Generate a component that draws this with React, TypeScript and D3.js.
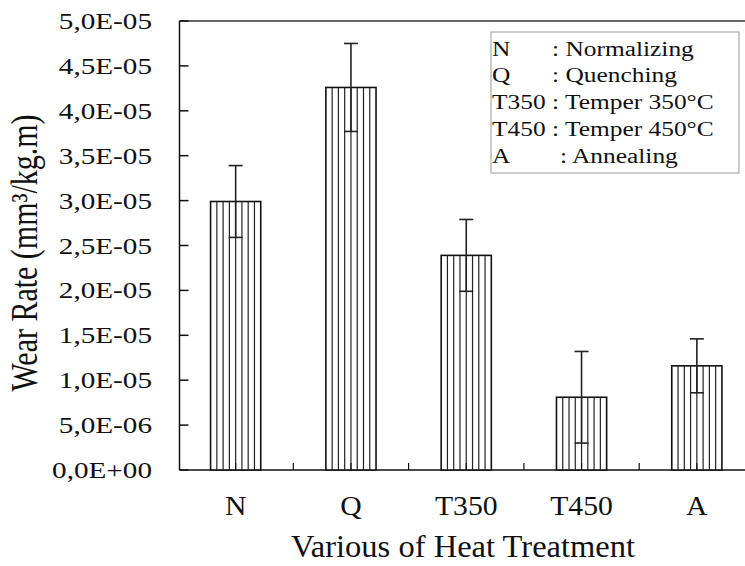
import { useMemo } from 'react';
import * as d3 from 'd3';

const categories = ['N', 'Q', 'T350', 'T450', 'A'];
const wearRate = [2.99e-5, 4.26e-5, 2.39e-5, 0.81e-5, 1.16e-5];
const wearError = [0.4e-5, 0.49e-5, 0.4e-5, 0.51e-5, 0.3e-5];

const yTicks = [0, 0.5e-5, 1e-5, 1.5e-5, 2e-5, 2.5e-5, 3e-5, 3.5e-5, 4e-5, 4.5e-5, 5e-5];
const yTickLabels = [
  '0,0E+00', '5,0E-06', '1,0E-05', '1,5E-05', '2,0E-05', '2,5E-05',
  '3,0E-05', '3,5E-05', '4,0E-05', '4,5E-05', '5,0E-05',
];

const legendKeys = ['N', 'Q', 'T350', 'T450', 'A'];
const legendText = ['Normalizing', 'Quenching', 'Temper 350°C', 'Temper 450°C', 'Annealing'];

const FONT = "'Liberation Serif', 'Times New Roman', Times, serif";
const textStyle = { fontFamily: FONT };

export default function App() {
  const width = 745;
  const height = 566;
  const margin = { top: 21, left: 179.5, bottom: 470 };

  const x = useMemo(
    () => d3.scaleBand<string>().domain(categories).range([178, 754.5]).padding(0),
    []
  );
  const y = useMemo(
    () => d3.scaleLinear().domain([0, 5e-5]).range([margin.bottom, margin.top]),
    []
  );

  const barW = x.bandwidth() * 0.435;
  const hatchCount = 8;
  const capW = 14;

  const boundaries = categories.map((c) => x(c) ?? 0).slice(1);

  return (
    <svg
      width={width}
      height={height}
      style={{ position: 'absolute', left: 0, top: 0, background: '#fff', fontFamily: FONT }}
    >
      <rect x={0} y={0} width={width} height={height} fill="#fff" />

      {/* frame */}
      <line x1={margin.left} x2={width + 20} y1={margin.top} y2={margin.top} stroke="#333" strokeWidth={1.5} />
      <line x1={margin.left} x2={margin.left} y1={margin.top} y2={margin.bottom} stroke="#111" strokeWidth={1.5} />
      <line x1={margin.left} x2={width + 20} y1={margin.bottom} y2={margin.bottom} stroke="#111" strokeWidth={1.5} />

      {/* y ticks */}
      {yTicks.map((t, i) => (
        <g key={t}>
          <line x1={margin.left} x2={margin.left + 9} y1={y(t)} y2={y(t)} stroke="#111" strokeWidth={1.5} />
          <text
            transform={`translate(152,${y(t)}) scale(1.27,1)`}
            textAnchor="end"
            dy="0.35em"
            fontSize={23}
            fill="#111"
            style={textStyle}
          >
            {yTickLabels[i]}
          </text>
        </g>
      ))}

      {/* x ticks */}
      {boundaries.map((bx) => (
        <line key={bx} x1={bx} x2={bx} y1={margin.bottom} y2={margin.bottom - 7} stroke="#111" strokeWidth={1.2} />
      ))}

      {/* bars */}
      {categories.map((c, i) => {
        const cx = (x(c) ?? 0) + x.bandwidth() / 2;
        const x0 = cx - barW / 2;
        const top = y(wearRate[i]);
        const hi = y(wearRate[i] + wearError[i]);
        const lo = y(wearRate[i] - wearError[i]);
        return (
          <g key={c}>
            <rect x={x0} y={top} width={barW} height={margin.bottom - top} fill="#fff" stroke="#111" strokeWidth={1.6} />
            {d3.range(1, hatchCount).map((k) => (
              <line
                key={k}
                x1={x0 + (k * barW) / hatchCount}
                x2={x0 + (k * barW) / hatchCount}
                y1={top}
                y2={margin.bottom}
                stroke="#222"
                strokeWidth={1.2}
              />
            ))}
            <line x1={cx} x2={cx} y1={margin.bottom} y2={margin.bottom - 7} stroke="#111" strokeWidth={1.2} />
            <line x1={cx} x2={cx} y1={hi} y2={lo} stroke="#222" strokeWidth={1.6} />
            <line x1={cx - capW / 2} x2={cx + capW / 2} y1={hi} y2={hi} stroke="#222" strokeWidth={1.6} />
            <line x1={cx - capW / 2} x2={cx + capW / 2} y1={lo} y2={lo} stroke="#222" strokeWidth={1.6} />
            <text
              transform={`translate(${cx},515) scale(1.1,1)`}
              textAnchor="middle"
              fontSize={27}
              fill="#111"
              style={textStyle}
            >
              {c}
            </text>
          </g>
        );
      })}

      {/* axis titles */}
      <text
        transform="translate(463,557) scale(1.05,1)"
        textAnchor="middle"
        fontSize={31}
        fill="#111"
        style={textStyle}
      >
        Various of Heat Treatment
      </text>
      <text
        transform="translate(37,253) rotate(-90) scale(1,1.25)"
        textAnchor="middle"
        fontSize={30}
        fill="#111"
        style={textStyle}
      >
        Wear Rate (mm³/kg.m)
      </text>

      {/* legend */}
      <rect x={491} y={32} width={248} height={141} fill="#fff" stroke="#999" strokeWidth={1} />
      {legendKeys.map((k, i) => {
        const by = 55.5 + i * 26.8;
        const descX = k === 'A' ? 560 : 552;
        return (
          <g key={k}>
            <text transform={`translate(492,${by}) scale(1.27,1)`} fontSize={20} fill="#111" style={textStyle}>
              {k}
            </text>
            <text transform={`translate(${descX},${by}) scale(1.27,1)`} fontSize={20} fill="#111" style={textStyle}>
              {`: ${legendText[i]}`}
            </text>
          </g>
        );
      })}
    </svg>
  );
}
